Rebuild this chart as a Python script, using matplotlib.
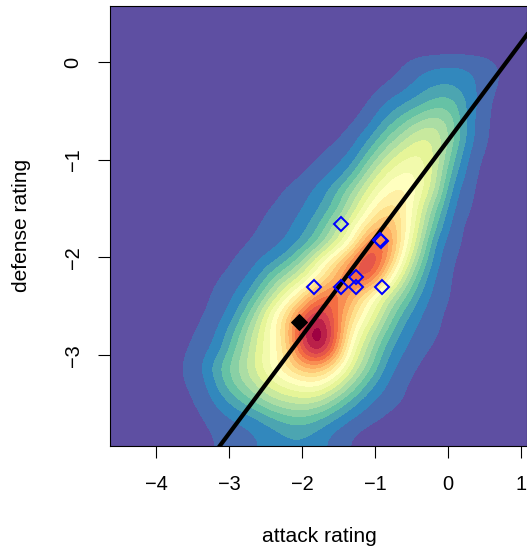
# Density of attack / defense ratings with a fitted line and team points

import matplotlib
matplotlib.use("Agg")
import numpy as np
import matplotlib.pyplot as plt
from matplotlib.colors import ListedColormap

plt.rcParams["font.family"] = ["Liberation Sans", "DejaVu Sans"]

# --- Data ---
# density levels (0-20), top row first
density_rows = [
    [0] * 25,
    [0] * 25,
    [0] * 25,
    [0,0,0,0,0,0,0,0,0,0,0,0,0,0,0,0,0,.5,1.2,1.5,1.7,1.5,1.1,.3,0],
    [0,0,0,0,0,0,0,0,0,0,0,0,0,0,0,0,.5,1,1.9,2.5,2.5,1.8,1,.3,0],
    [0,0,0,0,0,0,0,0,0,0,0,0,0,0,0,.5,1.5,2.3,3,4,4,2.2,.7,0,0],
    [0,0,0,0,0,0,0,0,0,0,0,0,0,0,.3,1.1,2.7,4,5.5,6.2,5,1.8,.6,0,0],
    [0,0,0,0,0,0,0,0,0,0,0,0,0,.3,1,2.3,4.3,6.2,7.7,7.5,5,1.9,.5,0,0],
    [0,0,0,0,0,0,0,0,0,0,0,0,.4,1,1.7,4,6.5,8.2,8.8,7.5,4,1.2,.3,0,0],
    [0,0,0,0,0,0,0,0,0,0,0,.4,1,1.6,3.2,6.2,8.5,9.8,9.5,7,3,1,0,0,0],
    [0,0,0,0,0,0,0,0,0,0,.6,1.1,1.8,3.3,5.6,8,10.3,11,9.3,6.5,1.9,.7,0,0,0],
    [0,0,0,0,0,0,0,0,0,.5,.9,1.4,2.4,4,6.7,9.8,12,11.5,8.2,4.5,1.5,.5,0,0,0],
    [0,0,0,0,0,0,0,0,.3,.8,1.2,2,3.5,6,9,12,14.5,11.5,7.5,3.5,1,.2,0,0,0],
    [0,0,0,0,0,0,0,.2,.6,1,1.5,2.8,4.7,7.5,10.5,16,16,11,6.5,2,.9,.1,0,0,0],
    [0,0,0,0,0,0,0,.6,1.1,2,3.2,5.5,9,12,15.5,19,15,9.5,5,1.7,.5,0,0,0,0],
    [0,0,0,0,0,0,.5,1,1.8,4,6.2,8.2,11,14,16.5,17,11.5,7.2,3.5,1.2,.4,0,0,0,0],
    [0,0,0,0,0,.2,.8,1.5,3.2,6,9,12,15.5,16.5,14,10.5,7.5,5,2.4,1,.4,0,0,0,0],
    [0,0,0,0,0,.4,1,2.3,5,8.7,12,16,19,16,12.2,9.3,6,3.2,1.6,.7,.2,0,0,0,0],
    [0,0,0,0,.2,.7,1.6,3.6,6.5,9.3,12.5,18.5,21.5,16.5,10.5,7.3,4.5,2.1,1.2,.6,.1,0,0,0,0],
    [0,0,0,0,.4,1,2,4.5,7,9.3,11.7,17.5,20.5,15.5,9,6,3,1.6,.8,.3,0,0,0,0,0],
    [0,0,0,0,.6,1.5,3.5,5.3,7.3,9.5,11.5,13.8,14,11.5,7.7,5,2.2,1,.4,0,0,0,0,0,0],
    [0,0,0,0,.5,1,2.8,4.8,6.3,8,9,9.8,10,8,5.5,3,1.5,.6,.2,0,0,0,0,0,0],
    [0,0,0,0,.2,.8,1.8,3,4.3,5.8,6.6,7,6.5,4.8,3,1.6,.9,.5,0,0,0,0,0,0,0],
    [0,0,0,0,0,.4,1,1.5,2,2.9,3.8,4.1,3.4,2.3,1.3,.7,.3,0,0,0,0,0,0,0,0],
    [0,0,0,0,0,.2,.6,.9,1.3,1.8,2.3,2.4,1.9,1,.4,0,0,0,0,0,0,0,0,0,0],
]

fit_slope = 1.0
fit_intercept = -0.8

team_attack = [-1.466, -0.922, -0.938, -1.832, -1.466, -1.264, -1.264, -0.908]
team_defense = [-1.661, -1.829, -1.822, -2.30, -2.30, -2.204, -2.306, -2.30]
focus_attack = [-2.05]
focus_defense = [-2.66]

x_ticks = [-4, -3, -2, -1, 0, 1]
y_ticks = [0, -1, -2, -3]
x_lim = (-4.64, 1.08)
y_lim = (-3.93, 0.573)

palette = ["#5E4FA2", "#486CB0", "#3288BD", "#4CA5B1", "#66C2A5", "#89D0A5", "#ABDDA4",
           "#C8E99E", "#E6F598", "#F2FAAC", "#FFFFBF", "#FFF0A5", "#FEE08B", "#FEC776",
           "#FDAE61", "#F98E52", "#F46D43", "#E55649", "#D53E4F", "#BA2049", "#9E0142"]

# --- Plot ---
fig = plt.figure(figsize=(527 / 72, 549 / 72), dpi=72)
ax = fig.add_axes([109.5 / 527, 1 - 446 / 549, 417.5 / 527, 440 / 549])

ax.imshow(np.array(density_rows), cmap=ListedColormap(palette), vmin=-0.5, vmax=20.5,
          extent=(x_lim[0], x_lim[1], y_lim[0], y_lim[1]), aspect="auto",
          interpolation="bicubic", interpolation_stage="data", origin="upper")

ax.axline((0, fit_intercept), slope=fit_slope, color="black", lw=4.2)
ax.plot(team_attack, team_defense, ls="none", marker="D", ms=9.5, mfc="none", mec="#0000FF", mew=2)
ax.plot(focus_attack, focus_defense, ls="none", marker="D", ms=11.8, color="black")

ax.set_xlim(x_lim)
ax.set_ylim(y_lim)
ax.set_xticks(x_ticks)
ax.set_xticklabels(["\u2212" + str(-v) if v < 0 else str(v) for v in x_ticks])
ax.set_yticks(y_ticks)
ax.set_yticklabels(["\u2212" + str(-v) if v < 0 else str(v) for v in y_ticks],
                   rotation=90, va="center")
ax.tick_params(length=12, width=1.1, labelsize=20)
ax.tick_params(axis="x", pad=17)
ax.tick_params(axis="y", pad=15)
for s in ax.spines.values():
    s.set_linewidth(1.1)

fig.text(319 / 527, 1 - 536 / 549, "attack rating", ha="center", va="center", fontsize=21)
fig.text(22 / 527, 1 - 225 / 549, "defense rating", ha="center", va="center",
         rotation=90, fontsize=21)

fig.savefig("out.png", dpi=72)
